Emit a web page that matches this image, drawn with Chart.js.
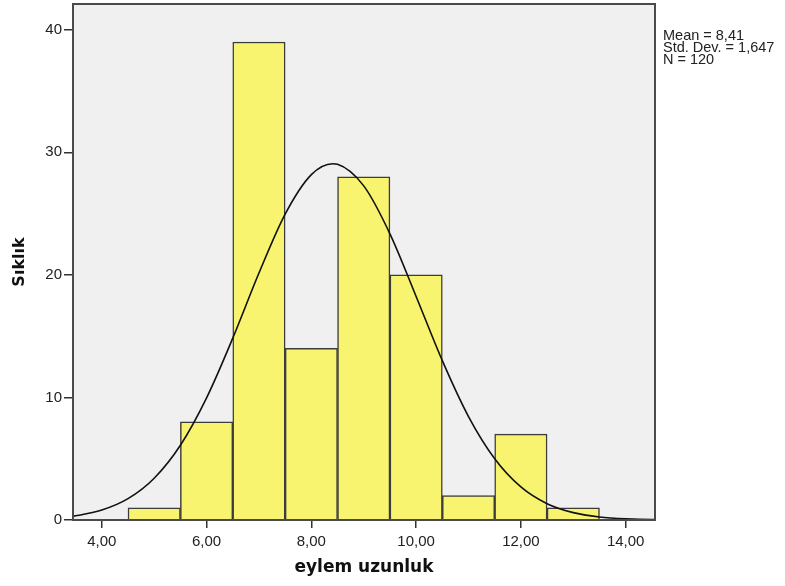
<!DOCTYPE html>
<html>
<head>
<meta charset="utf-8">
<script src="https://cdn.jsdelivr.net/npm/chart.js@4"></script>
<style>
  body { margin: 0; background: #fff; }
  #wrap { position: relative; width: 785px; height: 586px; }
  #stats {
    position: absolute; left: 663px; top: 30px;
    font-family: "Liberation Sans", Arial, sans-serif;
    font-size: 14.5px; line-height: 11.8px; color: #222;
  }
</style>
</head>
<body>
<div id="wrap">
  <canvas id="hist" width="785" height="586"></canvas>
  <div id="stats">Mean = 8,41<br>Std. Dev. = 1,647<br>N = 120</div>
</div>
<script>
// Histogram bins (centre of each 1-unit bin) and counts
const binCenters = [5, 6, 7, 8, 9, 10, 11, 12, 13];
const counts = [1, 8, 39, 14, 28, 20, 2, 7, 1];

// Normal curve
const curveX = [3.45, 3.5, 4.0, 4.5, 5.0, 5.5, 6.0, 6.5, 7.0, 7.5, 8.0, 8.41, 8.5, 9.0, 9.5,
                10.0, 10.5, 11.0, 11.5, 12.0, 12.5, 13.0, 13.5, 14.0, 14.5, 14.56];
const curveY = [0.31, 0.34, 0.81, 1.74, 3.41, 6.10, 9.97, 14.84, 20.15, 24.96, 28.18, 29.07, 29.03, 27.26, 23.35,
                18.24, 13.00, 8.44, 5.00, 2.70, 1.33, 0.60, 0.25, 0.09, 0.03, 0.03];

const xTicks = [4, 6, 8, 10, 12, 14];
const yTicks = [0, 10, 20, 30, 40];

const barData = binCenters.map((c, i) => ({ x: c, y: counts[i] }));
const curveData = curveX.map((x, i) => ({ x: x, y: curveY[i] }));

// plot frame + grey background
const plotFrame = {
    id: 'plotFrame',
    beforeDatasetsDraw(chart) {
        const a = chart.chartArea;
        const ctx = chart.ctx;
        ctx.save();
        ctx.fillStyle = '#f0f0f0';
        ctx.fillRect(a.left, a.top, a.right - a.left, a.bottom - a.top);
        ctx.restore();
    },
    afterDraw(chart) {
        const a = chart.chartArea;
        const ctx = chart.ctx;
        ctx.save();
        ctx.strokeStyle = '#4a4a4a';
        ctx.lineWidth = 2;
        ctx.strokeRect(a.left, a.top, a.right - a.left, a.bottom - a.top);
        ctx.restore();
    }
};

new Chart(document.getElementById('hist'), {
    type: 'bar',
    data: {
        datasets: [{
            type: 'line',
            data: curveData,
            borderColor: '#111',
            borderWidth: 1.6,
            pointRadius: 0,
            cubicInterpolationMode: 'monotone',
            fill: false,
            order: 0
        }, {
            type: 'bar',
            data: barData,
            backgroundColor: '#f8f46f',
            borderColor: '#3c3c3c',
            borderWidth: 1.5,
            barPercentage: 1,
            categoryPercentage: 1,
            order: 1
        }]
    },
    options: {
        responsive: false,
        animation: false,
        layout: { padding: { top: 4, right: 130, left: 0, bottom: 0 } },
        plugins: {
            legend: { display: false },
            tooltip: { enabled: false }
        },
        scales: {
            x: {
                type: 'linear',
                offset: false,
                min: 3.45,
                max: 14.56,
                afterFit: function(scale) {
                    scale.height = 66;
                    scale.paddingLeft = 0;
                    scale.paddingRight = 0;
                },
                afterBuildTicks: function(scale) {
                    scale.ticks = xTicks.map(v => ({ value: v }));
                },
                border: { display: false },
                grid: {
                    offset: false,
                    drawOnChartArea: false,
                    tickLength: 8,
                    color: '#333',
                    lineWidth: 1.5
                },
                ticks: {
                    padding: 5,
                    color: '#222',
                    font: { family: 'Liberation Sans', size: 15 },
                    callback: function(value) {
                        return value.toFixed(2).replace('.', ',');
                    }
                },
                title: {
                    display: true,
                    text: 'eylem uzunluk',
                    color: '#111',
                    font: { family: 'DejaVu Sans', size: 17, weight: 'bold' },
                    padding: { top: 0, bottom: 8 }
                }
            },
            y: {
                min: 0,
                max: 42.1,
                afterFit: function(scale) {
                    scale.width = 73;
                    scale.paddingTop = 0;
                    scale.paddingBottom = 0;
                },
                afterBuildTicks: function(scale) {
                    scale.ticks = yTicks.map(v => ({ value: v }));
                },
                border: { display: false },
                grid: {
                    drawOnChartArea: false,
                    tickLength: 9,
                    color: '#333',
                    lineWidth: 1.5
                },
                ticks: {
                    padding: 2,
                    color: '#222',
                    font: { family: 'Liberation Sans', size: 15 }
                },
                title: {
                    display: true,
                    text: 'Sıklık',
                    color: '#111',
                    font: { family: 'DejaVu Sans', size: 16, weight: 'bold' },
                    padding: { top: 10, bottom: 0 }
                }
            }
        }
    },
    plugins: [plotFrame]
});
</script>
</body>
</html>
